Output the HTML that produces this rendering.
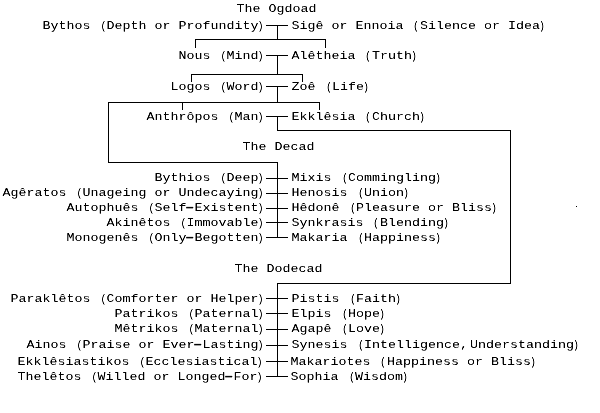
<!DOCTYPE html>
<html lang="en"><head><meta charset="utf-8"><title>The Ogdoad, the Decad and the Dodecad</title>
<style>
html,body{margin:0;padding:0;background:#fff;}
body{width:600px;height:413px;position:relative;overflow:hidden;font-family:"Liberation Mono","DejaVu Sans Mono",monospace;font-size:13.33px;line-height:15px;color:#000;}
.t{will-change:transform;position:absolute;white-space:pre;height:15px;transform:scaleY(0.88);transform-origin:0 11px;}
.t{text-indent:0.5px;}
.l{text-align:right;left:0;text-indent:0;}
.o,.c,.h{display:inline-block;transform-origin:50% 50%;}
.m{margin-right:2px;}
.h{transform:translateX(-1.2px) scale(2,1.5);}
.o{transform:translateX(.5px) scaleX(.75);}
.c{transform:translateX(-2.5px) scaleX(.75);}
.b{position:absolute;background:#000;}
#tx{position:absolute;left:0px;top:0;width:600px;height:413px;filter:url(#th);}
</style></head><body>
<svg width="0" height="0" style="position:absolute"><defs><filter id="th" x="0" y="0" width="100%" height="100%" color-interpolation-filters="sRGB"><feComponentTransfer><feFuncA type="linear" slope="1.5" intercept="-0.2"/></feComponentTransfer></filter></defs></svg>
<div id="tx">
<div class="t" style="left:236px;top:1px">The Ogdoad</div>
<div class="t" style="left:242px;top:139px">The Decad</div>
<div class="t" style="left:234px;top:261px">The Dodecad</div>
<div class="t l" style="width:266.5px;top:18px">Bythos <span class="o">(</span>Depth or Profundity<span class="c">)</span></div>
<div class="t" style="left:291px;top:18px">Sigê or Ennoia <span class="o">(</span>Silence or Idea<span class="c">)</span></div>
<div class="t l" style="width:266.5px;top:48px">Nous <span class="o">(</span>Mind<span class="c">)</span></div>
<div class="t" style="left:291px;top:48px">Alêtheia <span class="o">(</span>Truth<span class="c">)</span></div>
<div class="t l" style="width:266.5px;top:79px">Logos <span class="o">(</span>Word<span class="c">)</span></div>
<div class="t" style="left:291px;top:79px">Zoê <span class="o">(</span>Life<span class="c">)</span></div>
<div class="t l" style="width:266.5px;top:109px">Anthrôpos <span class="o">(</span>Man<span class="c">)</span></div>
<div class="t" style="left:291px;top:109px">Ekklêsia <span class="o">(</span>Church<span class="c">)</span></div>
<div class="t l" style="width:266.5px;top:170px">Bythios <span class="o">(</span>Deep<span class="c">)</span></div>
<div class="t" style="left:291px;top:170px">Mixis <span class="o">(</span>Commingling<span class="c">)</span></div>
<div class="t l" style="width:266.5px;top:185px">Agêratos <span class="o">(</span>Unageing or Undecaying<span class="c">)</span></div>
<div class="t" style="left:291px;top:185px">Henosis <span class="o">(</span>Union<span class="c">)</span></div>
<div class="t l" style="width:266.5px;top:200px">Autophuês <span class="o">(</span>Self<span class="h">-</span>Existent<span class="c">)</span></div>
<div class="t" style="left:291px;top:200px">Hêdonê <span class="o">(</span>Pleasure or Bliss<span class="c">)</span></div>
<div class="t l" style="width:266.5px;top:215px">Akinêtos <span class="o">(</span>Immovable<span class="c">)</span></div>
<div class="t" style="left:291px;top:215px">Synkrasis <span class="o">(</span>Blending<span class="c">)</span></div>
<div class="t l" style="width:266.5px;top:230px">Monogenês <span class="o">(</span>Only<span class="h">-</span>Begotten<span class="c">)</span></div>
<div class="t" style="left:291px;top:230px">Makaria <span class="o">(</span>Happiness<span class="c">)</span></div>
<div class="t l" style="width:266.5px;top:291px">Paraklêtos <span class="o">(</span>Comforter or Helper<span class="c">)</span></div>
<div class="t" style="left:291px;top:291px">Pistis <span class="o">(</span>Faith<span class="c">)</span></div>
<div class="t l" style="width:266.5px;top:306px">Patrikos <span class="o">(</span>Paternal<span class="c">)</span></div>
<div class="t" style="left:291px;top:306px">Elpis <span class="o">(</span>Hope<span class="c">)</span></div>
<div class="t l" style="width:266.5px;top:321px">Mêtrikos <span class="o">(</span>Maternal<span class="c">)</span></div>
<div class="t" style="left:291px;top:321px">Agapê <span class="o">(</span>Love<span class="c">)</span></div>
<div class="t l" style="width:266.5px;top:337px">Ainos <span class="o">(</span>Praise or Ever<span class="h">-</span>Lasting<span class="c">)</span></div>
<div class="t" style="left:291px;top:337px">Synesis <span class="o">(</span>Intelligence<span class="m">,</span>Understanding<span class="c">)</span></div>
<div class="t l" style="width:265.5px;top:354px">Ekklêsiastikos <span class="o">(</span>Ecclesiastical<span class="c">)</span></div>
<div class="t" style="left:290px;top:354px">Makariotes <span class="o">(</span>Happiness or Bliss<span class="c">)</span></div>
<div class="t l" style="width:265.5px;top:369px">Thelêtos <span class="o">(</span>Willed or Longed<span class="h">-</span>For<span class="c">)</span></div>
<div class="t" style="left:290px;top:369px">Sophia <span class="o">(</span>Wisdom<span class="c">)</span></div>
</div>
<div class="b" style="left:266px;top:25px;width:22px;height:1px"></div>
<div class="b" style="left:266px;top:55px;width:22px;height:1px"></div>
<div class="b" style="left:266px;top:86px;width:22px;height:1px"></div>
<div class="b" style="left:266px;top:116px;width:22px;height:1px"></div>
<div class="b" style="left:266px;top:178px;width:22px;height:1px"></div>
<div class="b" style="left:266px;top:193px;width:22px;height:1px"></div>
<div class="b" style="left:266px;top:208px;width:22px;height:1px"></div>
<div class="b" style="left:266px;top:222px;width:22px;height:1px"></div>
<div class="b" style="left:266px;top:237px;width:22px;height:1px"></div>
<div class="b" style="left:266px;top:298px;width:22px;height:1px"></div>
<div class="b" style="left:266px;top:313px;width:22px;height:1px"></div>
<div class="b" style="left:266px;top:329px;width:22px;height:1px"></div>
<div class="b" style="left:266px;top:345px;width:22px;height:1px"></div>
<div class="b" style="left:266px;top:361px;width:22px;height:1px"></div>
<div class="b" style="left:266px;top:376px;width:22px;height:1px"></div>
<div class="b" style="left:277px;top:25px;width:1px;height:15px"></div>
<div class="b" style="left:195px;top:39px;width:131px;height:1px"></div>
<div class="b" style="left:195px;top:39px;width:1px;height:9px"></div>
<div class="b" style="left:325px;top:39px;width:1px;height:9px"></div>
<div class="b" style="left:277px;top:55px;width:1px;height:20px"></div>
<div class="b" style="left:191px;top:74px;width:112px;height:1px"></div>
<div class="b" style="left:191px;top:74px;width:1px;height:8px"></div>
<div class="b" style="left:302px;top:74px;width:1px;height:8px"></div>
<div class="b" style="left:277px;top:86px;width:1px;height:17px"></div>
<div class="b" style="left:108px;top:102px;width:212px;height:1px"></div>
<div class="b" style="left:182px;top:102px;width:1px;height:8px"></div>
<div class="b" style="left:319px;top:102px;width:1px;height:8px"></div>
<div class="b" style="left:108px;top:102px;width:1px;height:61px"></div>
<div class="b" style="left:108px;top:162px;width:170px;height:1px"></div>
<div class="b" style="left:277px;top:162px;width:1px;height:76px"></div>
<div class="b" style="left:277px;top:116px;width:1px;height:15px"></div>
<div class="b" style="left:277px;top:130px;width:234px;height:1px"></div>
<div class="b" style="left:510px;top:130px;width:1px;height:154px"></div>
<div class="b" style="left:277px;top:283px;width:234px;height:1px"></div>
<div class="b" style="left:277px;top:283px;width:1px;height:94px"></div>
<div class="b" style="left:576px;top:206px;width:1px;height:1px"></div>
</body></html>
